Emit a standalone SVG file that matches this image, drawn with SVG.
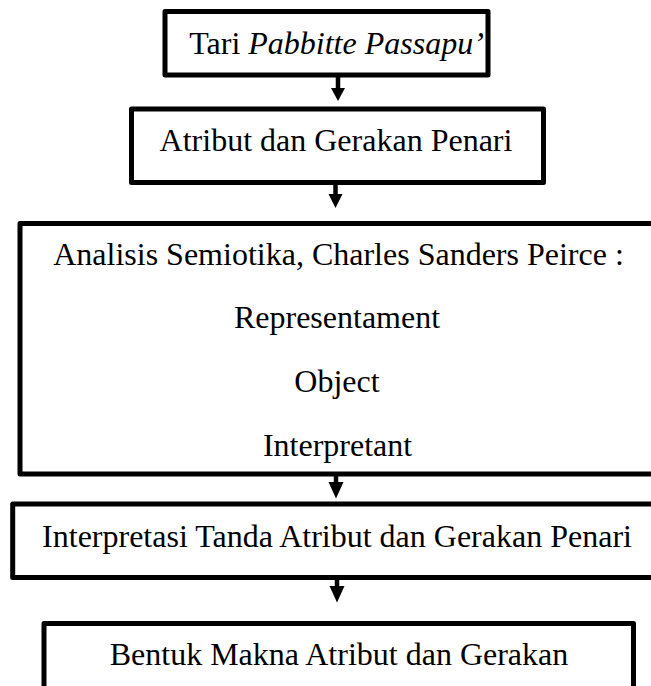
<svg xmlns="http://www.w3.org/2000/svg" width="651" height="686" viewBox="0 0 651 686">
<style>
.box{fill:#fff;stroke:#000;stroke-width:5;stroke-linejoin:round}
.t{font-family:"Liberation Serif","Times New Roman",serif;font-size:32px;fill:#000;text-anchor:middle}
.i{font-style:italic}
.sh{stroke:#000;stroke-width:4.5;fill:none}
.hd{fill:#000}
</style>
<rect width="651" height="686" fill="#fff"/>
<g id="node-tari">
<rect class="box" x="165" y="11.5" width="323" height="63.5"/>
<text class="t" x="336.5" y="53.5">Tari <tspan class="i">Pabbitte Passapu’</tspan></text>
</g>
<g id="node-atribut">
<rect class="box" x="131.5" y="109" width="412" height="73.5"/>
<text class="t" x="336" y="151">Atribut dan Gerakan Penari</text>
</g>
<g id="node-analisis">
<rect class="box" x="20" y="223.5" width="640" height="250.5"/>
<text class="t" x="338.5" y="265">Analisis Semiotika, Charles Sanders Peirce :</text>
<text class="t" x="337" y="328">Representament</text>
<text class="t" x="337" y="392">Object</text>
<text class="t" x="337.5" y="455.5">Interpretant</text>
</g>
<g id="node-interpretasi">
<rect class="box" x="12.7" y="504" width="647.3" height="73.5"/>
<text class="t" x="337" y="547">Interpretasi Tanda Atribut dan Gerakan Penari</text>
</g>
<g id="node-bentuk">
<rect class="box" x="44" y="623.5" width="589.5" height="80"/>
<text class="t" x="339" y="665">Bentuk Makna Atribut dan Gerakan</text>
</g>
<g id="connectors">
<line class="sh" x1="338" y1="77" x2="338" y2="90"/>
<polygon class="hd" points="331,88 345,88 338,101"/>
<line class="sh" x1="335.5" y1="184" x2="335.5" y2="197"/>
<polygon class="hd" points="328.5,194 342.5,194 335.5,208"/>
<line class="sh" x1="336" y1="476" x2="336" y2="484"/>
<polygon class="hd" points="328.5,482 343.5,482 336,498.5"/>
<line class="sh" x1="337" y1="579" x2="337" y2="588"/>
<polygon class="hd" points="329.5,586 344.5,586 337,602.5"/>
</g>
</svg>
